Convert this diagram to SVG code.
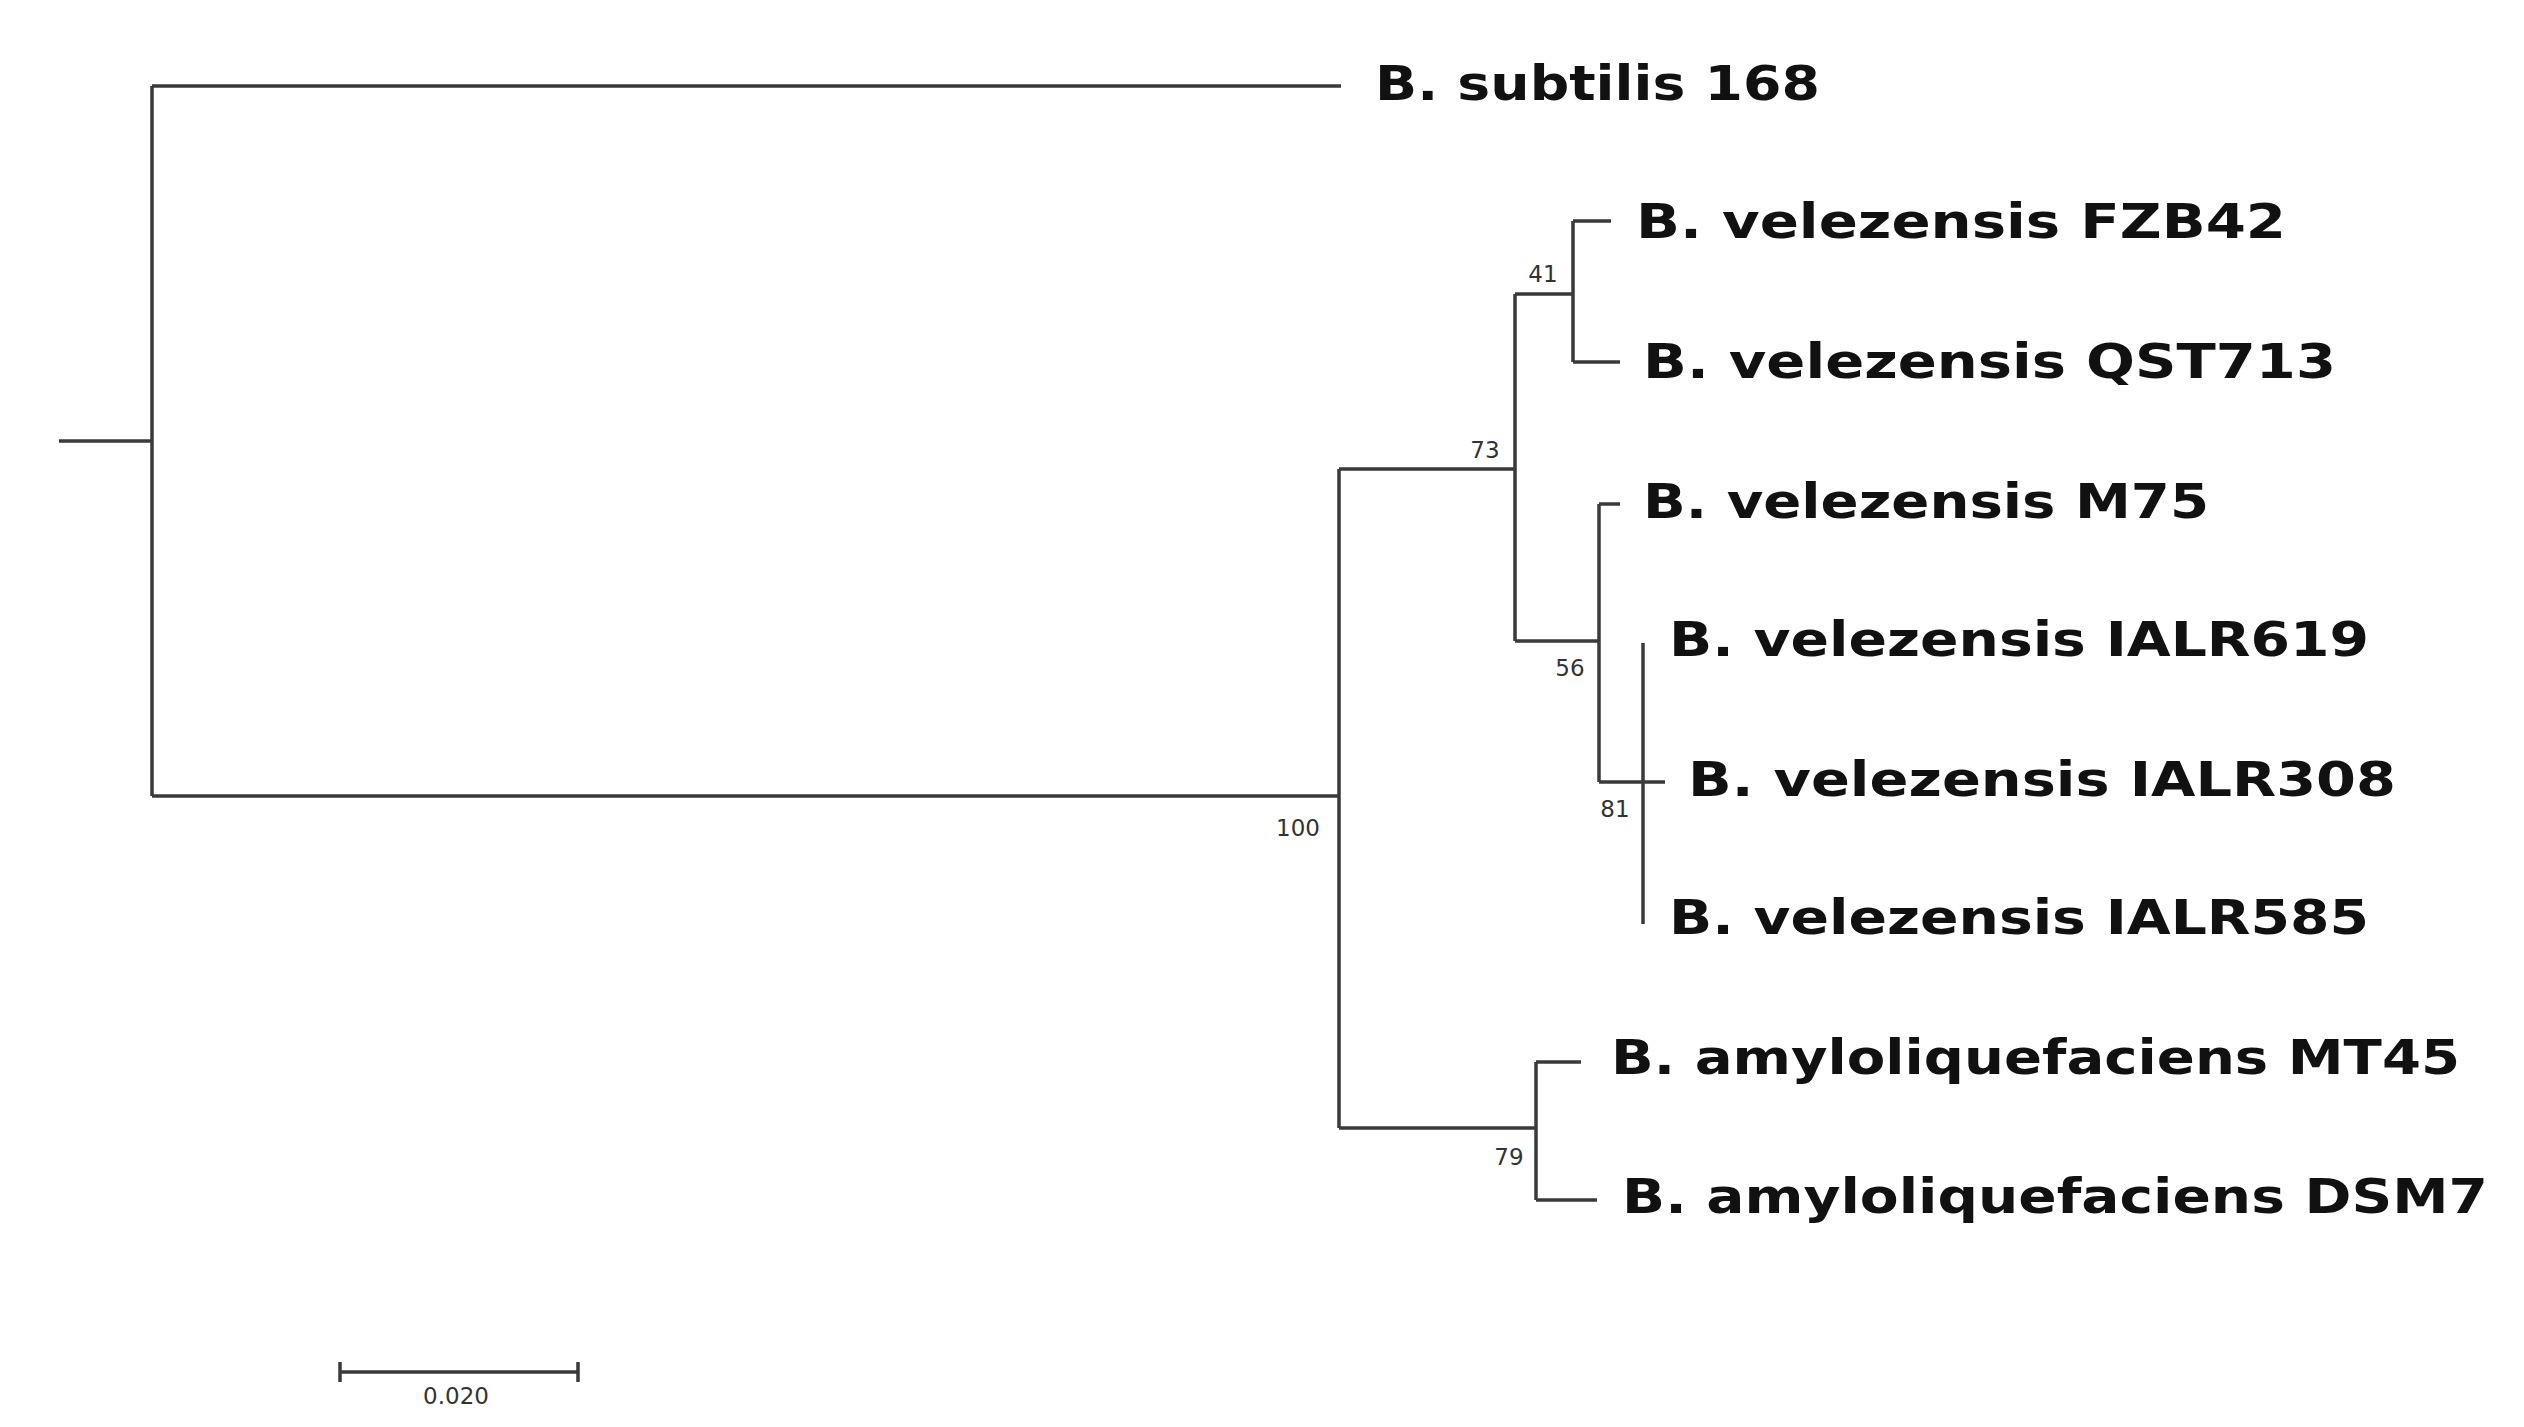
<svg xmlns="http://www.w3.org/2000/svg" width="2524" height="1427" viewBox="0 0 2524 1427">
<style>
.br{fill:none;stroke:#3a3a3a;stroke-width:3.5}
.lf{font-family:"DejaVu Sans",sans-serif;font-weight:bold;font-size:48px;fill:#111}
.bs{font-family:"DejaVu Sans",sans-serif;font-size:23px;fill:#333;text-anchor:middle}
</style>
<rect width="2524" height="1427" fill="#fff"/>
<g id="connectors">
<path class="br" d="M59 441H152M152 86V796M152 86H1341M152 796H1339"/>
<path class="br" d="M1339 469V1128M1339 469H1515M1339 1128H1536"/>
<path class="br" d="M1515 294V641M1515 294H1573M1515 641H1599"/>
<path class="br" d="M1573 221V362M1573 221H1611M1573 362H1620"/>
<path class="br" d="M1599 504V782M1599 504H1620M1599 782H1665"/>
<path class="br" d="M1643 643V924"/>
<path class="br" d="M1536 1062V1200M1536 1062H1581M1536 1200H1597"/>
</g>
<g id="leaf-subtilis"><text class="lf" x="1375" y="100" textLength="445" lengthAdjust="spacingAndGlyphs">B. subtilis 168</text></g>
<g id="leaf-FZB42"><text class="lf" x="1636" y="238" textLength="650" lengthAdjust="spacingAndGlyphs">B. velezensis FZB42</text></g>
<g id="leaf-QST713"><text class="lf" x="1643" y="378" textLength="693" lengthAdjust="spacingAndGlyphs">B. velezensis QST713</text></g>
<g id="leaf-M75"><text class="lf" x="1643" y="518" textLength="566" lengthAdjust="spacingAndGlyphs">B. velezensis M75</text></g>
<g id="leaf-IALR619"><text class="lf" x="1669" y="656" textLength="700" lengthAdjust="spacingAndGlyphs">B. velezensis IALR619</text></g>
<g id="leaf-IALR308"><text class="lf" x="1688" y="796" textLength="708" lengthAdjust="spacingAndGlyphs">B. velezensis IALR308</text></g>
<g id="leaf-IALR585"><text class="lf" x="1669" y="934" textLength="700" lengthAdjust="spacingAndGlyphs">B. velezensis IALR585</text></g>
<g id="leaf-MT45"><text class="lf" x="1611" y="1074" textLength="849" lengthAdjust="spacingAndGlyphs">B. amyloliquefaciens MT45</text></g>
<g id="leaf-DSM7"><text class="lf" x="1622" y="1213" textLength="866" lengthAdjust="spacingAndGlyphs">B. amyloliquefaciens DSM7</text></g>
<g id="bootstrap">
<text class="bs" x="1298" y="836">100</text>
<text class="bs" x="1485" y="458">73</text>
<text class="bs" x="1543" y="282">41</text>
<text class="bs" x="1570" y="676">56</text>
<text class="bs" x="1615" y="817">81</text>
<text class="bs" x="1509" y="1165">79</text>
</g>
<g id="scale">
<path class="br" d="M340 1372H578M340 1362V1382M578 1362V1382"/>
<text class="bs" x="456" y="1404">0.020</text>
</g>
</svg>
